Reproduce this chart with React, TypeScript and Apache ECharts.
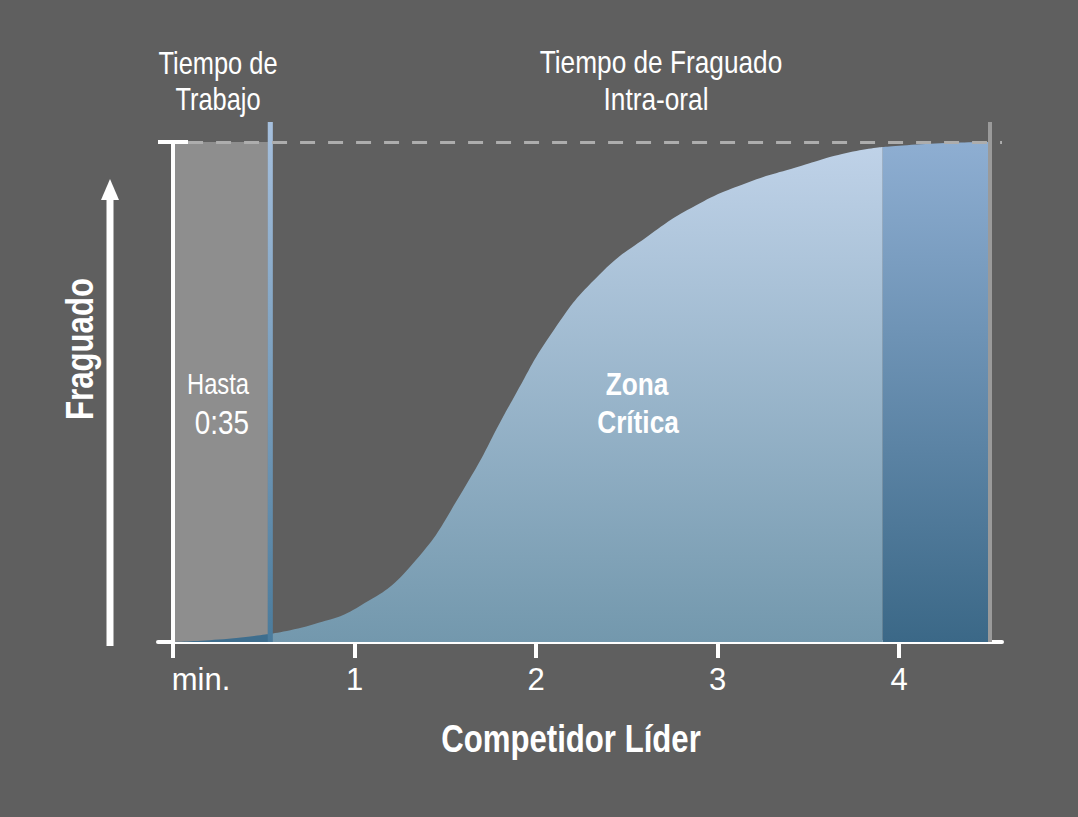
import React, { useEffect, useRef } from "react";
import * as echarts from "echarts";

// ---- data ----
const curveX = [0, 0.25, 0.53, 0.78, 1.03, 1.31, 1.6, 1.87, 2.1, 2.35, 2.61, 2.88, 3.16, 3.44, 3.71, 3.91, 4.2, 4.5];
const curveY = [0, 0.5, 1.6, 3.6, 7.2, 15.2, 30.5, 48.4, 62.5, 73.5, 81, 87.3, 91.8, 95, 97.8, 99, 99.7, 100];
const workEnd = 0.53; // end of working time
const bandStart = 3.91; // start of dark band
const setEnd = 4.5; // end of setting time
const xTickValues = [0, 1, 2, 3, 4];
const xTickLabels = ["min.", "1", "2", "3", "4"];
const xMin = -0.0826;
const xMax = 4.567;
const yMin = -3.2;
const yMax = 104;
const fullSet = 100;

const FONT = '"Liberation Sans", Arial, sans-serif';
const NARROW = 0.82;

function segment(a: number, b: number) {
  const out: number[][] = [];
  curveX.forEach((x, i) => {
    if (x >= a - 1e-9 && x <= b + 1e-9) out.push([x, curveY[i]]);
  });
  return out;
}

export default function App() {
  const ref = useRef<HTMLDivElement>(null);
  useEffect(() => {
    document.body.style.margin = "0";
    const chart = echarts.init(ref.current!, null, { renderer: "svg" });
    const lg = (stops: [number, string][]) =>
      new echarts.graphic.LinearGradient(0, 0, 0, 1, stops.map(([offset, color]) => ({ offset, color })));
    const areaBase = {
      type: "line",
      smooth: 0.5,
      symbol: "none",
      silent: true,
      lineStyle: { width: 0 },
      xAxisIndex: 0,
      yAxisIndex: 0,
      z: 2,
    };
    const option: any = {
      animation: false,
      backgroundColor: "#5f5f5f",
      grid: { left: 158, right: 1078 - 1002, top: 122, bottom: 817 - 658 },
      xAxis: [
        {
          type: "value",
          min: xMin,
          max: xMax,
          position: "bottom",
          axisLine: { show: true, onZero: true, lineStyle: { color: "#ffffff", width: 4 } },
          axisTick: { show: true, length: 16, customValues: xTickValues, lineStyle: { color: "#ffffff", width: 4 } },
          axisLabel: {
            show: true,
            customValues: xTickValues,
            margin: 6,
            color: "#ffffff",
            fontSize: 31,
            fontFamily: FONT,
            formatter: (v: number) => {
              const i = xTickValues.indexOf(Math.round(v));
              const s = i >= 0 ? xTickLabels[i] : "";
              return i === 0 ? "{m|" + s + "}" : s;
            },
            rich: { m: { fontSize: 31, fontFamily: FONT, color: "#ffffff", padding: [0, 0, 0, 56] } },
          },
          splitLine: { show: false },
        },
        {
          type: "value",
          min: xMin,
          max: xMax,
          position: "bottom",
          axisLine: { show: false, onZero: true },
          axisTick: { show: true, inside: true, length: 14, customValues: xTickValues.slice(1), lineStyle: { color: "#ffffff", width: 4 } },
          axisLabel: { show: false },
          splitLine: { show: false },
        },
      ],
      yAxis: {
        type: "value",
        min: yMin,
        max: yMax,
        axisLine: { show: false },
        axisTick: { show: false },
        axisLabel: { show: false },
        splitLine: { show: false },
      },
      series: [
        {
          type: "line",
          data: [],
          silent: true,
          z: 1,
          markArea: {
            silent: true,
            z: 1,
            itemStyle: { color: "#8e8e8e" },
            data: [[{ coord: [0, 0] }, { coord: [workEnd - 0.007, fullSet] }]],
          },
        },
        { ...areaBase, data: segment(0, workEnd), areaStyle: { color: "#3e6e8e", opacity: 1 } },
        {
          ...areaBase,
          data: segment(workEnd, bandStart),
          areaStyle: { opacity: 1, color: lg([[0, "#bfd2e8"], [1, "#7398ad"]]) },
        },
        {
          ...areaBase,
          data: segment(bandStart, setEnd),
          areaStyle: { opacity: 1, color: lg([[0, "#8eaed2"], [1, "#3b6887"]]) },
        },
        {
          type: "line",
          data: [],
          silent: true,
          z: 3,
          markArea: {
            silent: true,
            z: 3,
            itemStyle: { color: lg([[0, "#a6c0de"], [1, "#4a7b9c"]]) },
            data: [[{ coord: [workEnd - 0.008, 0] }, { coord: [workEnd + 0.02, yMax] }]],
          },
          markLine: {
            silent: true,
            z: 4,
            symbol: ["none", "none"],
            label: { show: false },
            data: [
              [
                { coord: [0, yMin], lineStyle: { color: "#ffffff", width: 4, type: "solid" } },
                { coord: [0, fullSet] },
              ],
              [
                { coord: [xMin, fullSet], lineStyle: { color: "#ffffff", width: 4, type: "solid" } },
                { coord: [0.083, fullSet] },
              ],
              [
                { coord: [0.083, fullSet], lineStyle: { color: "#adadad", width: 3, type: [15, 13] } },
                { coord: [xMax, fullSet] },
              ],
              [
                { coord: [setEnd, 0], lineStyle: { color: "#9a9a9a", width: 4, type: "solid" } },
                { coord: [setEnd, yMax] },
              ],
            ],
          },
        },
      ],
      graphic: [
        { type: "rect", shape: { x: 106.5, y: 196, width: 7, height: 450 }, style: { fill: "#ffffff" }, z: 10 },
        { type: "polygon", shape: { points: [[101, 200], [119, 200], [110, 179]] }, style: { fill: "#ffffff" }, z: 10 },
        ...[
          { t: "Tiempo de", x: 218, y: 63, s: 31, w: "normal" },
          { t: "Trabajo", x: 218, y: 99, s: 31, w: "normal" },
          { t: "Tiempo de Fraguado", x: 661, y: 62, s: 32, w: "normal" },
          { t: "Intra-oral", x: 656, y: 99, s: 32, w: "normal" },
          { t: "Hasta", x: 218, y: 384, s: 29, w: "normal" },
          { t: "0:35", x: 222, y: 423, s: 34, w: "normal" },
          { t: "Zona", x: 637, y: 384, s: 32, w: "bold" },
          { t: "Crítica", x: 638, y: 422, s: 32, w: "bold" },
          { t: "Competidor Líder", x: 571, y: 739, s: 38, w: "bold" },
        ].map((d) => ({
          type: "text",
          x: d.x,
          y: d.y,
          scaleX: NARROW,
          z: 20,
          style: {
            text: d.t,
            fill: "#ffffff",
            fontSize: d.s,
            fontWeight: d.w,
            fontFamily: FONT,
            align: "center",
            verticalAlign: "middle",
          },
        })),
        {
          type: "text",
          x: 80,
          y: 349,
          rotation: Math.PI / 2,
          scaleX: NARROW,
          z: 20,
          style: {
            text: "Fraguado",
            fill: "#ffffff",
            fontSize: 38,
            fontWeight: "bold",
            fontFamily: FONT,
            align: "center",
            verticalAlign: "middle",
          },
        },
      ],
    };
    chart.setOption(option);
    return () => chart.dispose();
  }, []);
  return <div ref={ref} style={{ width: 1078, height: 817, background: "#5f5f5f" }} />;
}
